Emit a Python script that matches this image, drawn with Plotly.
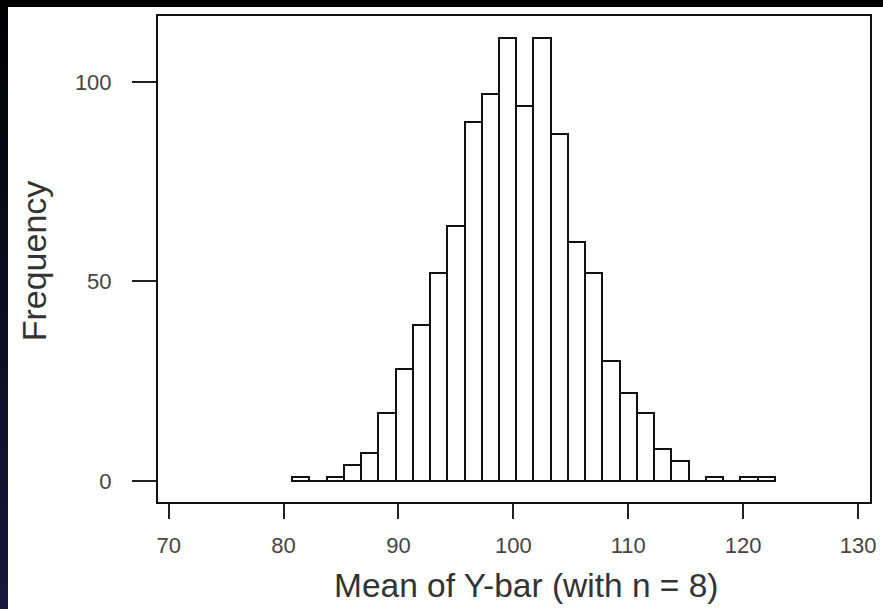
import plotly.graph_objects as go

# Histogram data (bin width 1.5, first bin starting at 80.75)
bin_start = 80.75
bin_width = 1.5
counts = [1, 0, 1, 4, 7, 17, 28, 39, 52, 64, 90, 97, 111, 94, 111, 87,
          60, 52, 30, 22, 17, 8, 5, 0, 1, 0, 1, 1]
centers = [bin_start + bin_width * (i + 0.5) for i in range(len(counts))]

x_ticks = [70, 80, 90, 100, 110, 120, 130]
y_ticks = [0, 50, 100]

FONT = "Liberation Sans, Arial, sans-serif"

fig = go.Figure()
fig.add_trace(go.Bar(
    x=centers, y=counts, width=bin_width,
    marker=dict(color="white", line=dict(color="#111111", width=2)),
    showlegend=False,
))

# page offset (dark frame drawn by the page body padding)
OX, OY = 8, 7
W, H = 883 - OX, 609 - OY
# plot area in window pixels: left 158, right 872, top 14, bottom 502
L = 158 - OX
T = 14 - OY
R = W - (872 - OX)
B = H - (502 - OY)
pw, ph = W - L - R, H - T - B

def px_x(p):  # window pixel -> paper x
    return (p - OX - L) / pw

def px_y(p):  # window pixel -> paper y
    return (H - B - (p - OY)) / ph

fig.update_layout(
    width=W, height=H,
    margin=dict(l=L, r=R, t=T, b=B),
    paper_bgcolor="white", plot_bgcolor="white",
    bargap=0,
    font=dict(family=FONT, color="#444444"),
    annotations=[
        dict(text="Mean of Y-bar (with n = 8)", xref="paper", yref="paper",
             x=px_x(528), y=px_y(586), xanchor="center", yanchor="middle",
             showarrow=False, font=dict(size=33.5, color="#333333", family=FONT)),
        dict(text="Frequency", xref="paper", yref="paper",
             x=px_x(34), y=px_y(260), xanchor="center", yanchor="middle",
             textangle=-90, showarrow=False,
             font=dict(size=34, color="#333333", family=FONT)),
    ],
)

fig.update_xaxes(
    range=[69.07, 131.04], tickvals=x_ticks, ticktext=[str(v) for v in x_ticks],
    showgrid=False, zeroline=False,
    showline=True, mirror=True, linecolor="#111111", linewidth=2,
    ticks="outside", ticklen=15, tickwidth=2, tickcolor="#222222",
    tickfont=dict(size=22, color="#444444", family=FONT),
    ticklabelstandoff=8,
)
fig.update_yaxes(
    range=[-5.24, 116.5], tickvals=y_ticks, ticktext=[str(v) for v in y_ticks],
    showgrid=False, zeroline=False,
    showline=True, mirror=True, linecolor="#111111", linewidth=2,
    ticks="outside", ticklen=24, tickwidth=2, tickcolor="#222222",
    tickfont=dict(size=22, color="#444444", family=FONT),
    ticklabelstandoff=16,
)

post = (
    "document.body.style.margin='0';"
    "document.body.style.padding='%dpx 0 0 %dpx';"
    "document.body.style.overflow='hidden';"
    "document.documentElement.style.background='#000';"
    "document.body.style.background="
    "'linear-gradient(to bottom, #000000 0%%, #0b0b1c 40%%, #16163a 100%%)';"
) % (OY, OX)

fig.write_html("out.html", post_script=post)
